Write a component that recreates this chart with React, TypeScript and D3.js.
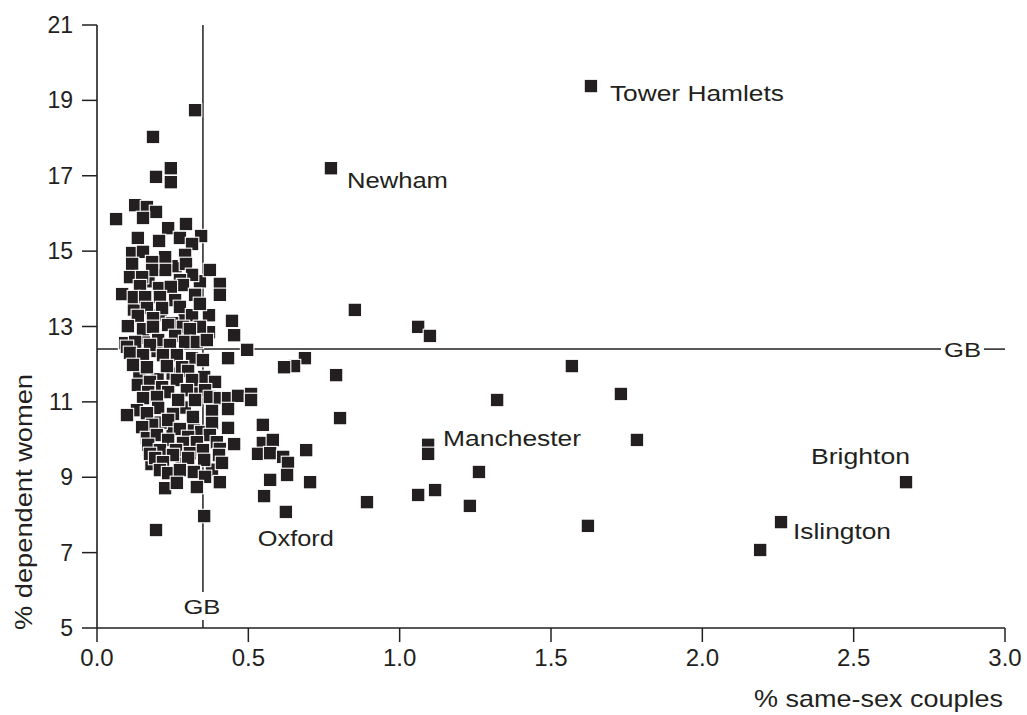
import React from "react";
import * as d3 from "d3";

// ---------- DATA ----------
const xTickValues = [0, 0.5, 1.0, 1.5, 2.0, 2.5, 3.0];
const yTickValues = [5, 7, 9, 11, 13, 15, 17, 19, 21];
const xAxisTitle = "% same-sex couples";
const yAxisTitle = "% dependent women";
const gbSameSex = 0.35;
const gbDependent = 12.4;

// Districts mostly hidden under the dense cluster (x = % same-sex couples, y = % dependent women)
const coveredDistricts: [number, number][] = [
  [0.122, 13.45], [0.37, 13.3], [0.37, 12.85], [0.28, 12.75], [0.155, 12.7],
  [0.2, 12.35], [0.25, 11.75], [0.14, 11.7], [0.2, 11.6], [0.33, 11.4],
  [0.29, 10.85], [0.25, 10.3], [0.21, 10.45], [0.32, 10.4], [0.28, 9.55],
  [0.38, 9.2], [0.18, 9.35], [0.29, 13.2], [0.21, 13.3], [0.17, 14.2],
  [0.26, 14.6], [0.34, 14.2],
];

const clusterDistricts: [number, number][] = [
  [0.324, 18.74], [0.185, 18.03], [0.244, 17.2], [0.195, 16.97], [0.244, 16.83],
  [0.126, 16.22], [0.165, 16.17], [0.195, 16.04], [0.152, 15.88], [0.063, 15.85],
  [0.235, 15.61], [0.294, 15.72], [0.135, 15.35], [0.205, 15.27], [0.274, 15.35],
  [0.344, 15.4], [0.314, 15.19], [0.116, 14.95], [0.152, 14.98], [0.225, 14.84],
  [0.291, 14.9], [0.116, 14.66], [0.225, 14.5], [0.294, 14.66], [0.373, 14.5],
  [0.182, 14.71], [0.182, 14.5], [0.109, 14.31], [0.149, 14.31], [0.314, 14.37],
  [0.274, 14.23], [0.406, 14.13], [0.406, 13.84], [0.083, 13.86], [0.205, 14.02],
  [0.284, 14.1], [0.244, 14.05], [0.142, 14.07], [0.122, 13.78], [0.159, 13.78],
  [0.324, 13.84], [0.258, 13.7], [0.208, 13.78], [0.165, 13.49], [0.215, 13.49],
  [0.274, 13.52], [0.314, 13.3], [0.34, 13.6], [0.446, 13.15], [0.453, 12.77],
  [0.135, 13.28], [0.248, 13.09], [0.185, 13.22], [0.102, 13.01], [0.152, 12.93],
  [0.185, 12.99], [0.284, 12.99], [0.34, 12.99], [0.235, 13.04], [0.307, 12.93],
  [0.258, 12.75], [0.202, 12.64], [0.175, 12.51], [0.241, 12.51], [0.291, 12.59],
  [0.33, 12.59], [0.093, 12.56], [0.126, 12.59], [0.363, 12.64], [0.099, 12.46],
  [0.109, 12.3], [0.152, 12.24], [0.218, 12.24], [0.264, 12.24], [0.314, 12.16],
  [0.433, 12.16], [0.35, 12.11], [0.496, 12.38], [0.119, 11.98], [0.165, 11.92],
  [0.231, 11.95], [0.281, 11.92], [0.301, 11.82], [0.354, 11.66], [0.39, 11.53],
  [0.135, 11.45], [0.175, 11.53], [0.264, 11.58], [0.314, 11.58], [0.215, 11.39],
  [0.297, 11.31], [0.235, 11.26], [0.169, 11.26], [0.357, 11.31],
  [0.198, 11.13], [0.152, 11.1], [0.268, 11.05], [0.324, 11.05], [0.373, 11.13],
  [0.406, 11.1], [0.433, 11.1], [0.466, 11.16], [0.509, 11.21], [0.509, 11.05],
  [0.132, 10.78], [0.202, 10.84], [0.251, 10.68], [0.317, 10.6], [0.38, 10.76],
  [0.433, 10.81], [0.099, 10.65], [0.165, 10.7], [0.182, 10.39], [0.149, 10.33],
  [0.235, 10.52], [0.274, 10.28], [0.344, 10.2], [0.38, 10.44], [0.433, 10.31],
  [0.373, 10.12], [0.165, 10.04], [0.198, 10.12], [0.235, 9.99], [0.301, 10.07],
  [0.284, 9.91], [0.33, 9.93], [0.396, 9.93], [0.453, 9.88], [0.169, 9.86],
  [0.208, 9.72], [0.261, 9.72], [0.307, 9.64], [0.35, 9.72], [0.406, 9.75],
  [0.175, 9.62], [0.192, 9.51], [0.251, 9.59], [0.301, 9.51], [0.354, 9.46],
  [0.403, 9.59], [0.413, 9.38], [0.218, 9.4], [0.208, 9.19], [0.235, 9.11],
  [0.274, 9.19], [0.32, 9.14], [0.357, 9.01], [0.406, 8.87], [0.225, 8.71],
  [0.264, 8.85], [0.33, 8.74], [0.354, 7.97], [0.195, 7.6],
  [0.548, 10.39], [0.548, 9.91], [0.581, 9.99], [0.532, 9.62], [0.572, 9.64],
  [0.615, 9.54], [0.631, 9.38], [0.691, 9.72], [0.572, 8.93], [0.628, 9.06],
  [0.704, 8.87], [0.552, 8.5], [0.687, 12.16], [0.651, 11.95], [0.618, 11.92],
  [0.79, 11.71], [0.803, 10.57],
];

const outlyingDistricts: [number, number][] = [
  [0.852, 13.44], [1.061, 12.99], [1.1, 12.75], [1.569, 11.95], [1.731, 11.21],
  [1.322, 11.05], [1.094, 9.86], [1.784, 9.99], [1.262, 9.14], [1.117, 8.66],
  [1.061, 8.53], [0.892, 8.34], [1.232, 8.24], [1.622, 7.71], [2.191, 7.07],
];

const labelledNames = ["Tower Hamlets", "Newham", "Manchester", "Brighton", "Islington", "Oxford"];
const labelledX = [1.632, 0.773, 1.094, 2.673, 2.26, 0.624];
const labelledY = [19.38, 17.2, 9.62, 8.87, 7.81, 8.08];

// ---------- LAYOUT / STYLE ----------
const W = 1027;
const H = 715;
const plotLeft = 97;
const plotRight = 1005;
const plotTop = 25;
const plotBottom = 628;
const ink = "#231f20";
const font = "'Liberation Sans', Arial, Helvetica, sans-serif";
const sq = 13.5;

const labelStyle: Record<string, { dx: number; dy: number; anchor: string; len: number }> = {
  "Tower Hamlets": { dx: 19, dy: 15, anchor: "start", len: 174 },
  Newham: { dx: 16, dy: 20, anchor: "start", len: 101 },
  Manchester: { dx: 15, dy: -8, anchor: "start", len: 138 },
  Brighton: { dx: 4, dy: -18, anchor: "end", len: 99 },
  Islington: { dx: 12, dy: 17, anchor: "start", len: 98 },
  Oxford: { dx: -28, dy: 34, anchor: "start", len: 76 },
};

export default function App() {
  const x = d3.scaleLinear().domain([0, 3]).range([plotLeft, plotRight]);
  const y = d3.scaleLinear().domain([5, 21]).range([plotBottom, plotTop]);
  const fmt = d3.format(".1f");

  const gx = x(gbSameSex);
  const gy = y(gbDependent);

  const square = (px: number, py: number, key: string) => (
    <rect
      key={key}
      x={x(px) - sq / 2}
      y={y(py) - sq / 2}
      width={sq}
      height={sq}
      fill={ink}
      stroke="#ffffff"
      strokeWidth={1.1}
    />
  );

  return (
    <div style={{ position: "absolute", left: 0, top: 0 }}>
      <svg width={W} height={H} style={{ display: "block", background: "#ffffff" }}>
        <rect x={0} y={0} width={W} height={H} fill="#ffffff" />

        {/* GB reference lines */}
        <line x1={gx} x2={gx} y1={plotTop} y2={592} stroke={ink} strokeWidth={1.5} />
        <line x1={gx} x2={gx} y1={620} y2={plotBottom} stroke={ink} strokeWidth={1.5} />
        <text x={gx - 1} y={614} textAnchor="middle" fontFamily={font} fontSize={21} fill={ink}
          textLength={37} lengthAdjust="spacingAndGlyphs">GB</text>

        <line x1={plotLeft} x2={941} y1={gy} y2={gy} stroke={ink} strokeWidth={1.5} />
        <line x1={984} x2={plotRight} y1={gy} y2={gy} stroke={ink} strokeWidth={1.5} />
        <text x={944} y={gy + 8} textAnchor="start" fontFamily={font} fontSize={21} fill={ink}
          textLength={37} lengthAdjust="spacingAndGlyphs">GB</text>

        {/* points */}
        {coveredDistricts.map((d, i) => square(d[0], d[1], "h" + i))}
        {clusterDistricts.map((d, i) => square(d[0], d[1], "c" + i))}
        {outlyingDistricts.map((d, i) => square(d[0], d[1], "o" + i))}
        {labelledNames.map((n, i) => square(labelledX[i], labelledY[i], "l" + i))}

        {/* labels */}
        {labelledNames.map((n, i) => {
          const s = labelStyle[n];
          return (
            <text
              key={"t" + i}
              x={x(labelledX[i]) + s.dx}
              y={y(labelledY[i]) + s.dy}
              textAnchor={s.anchor}
              fontFamily={font}
              fontSize={22}
              fill={ink}
              textLength={s.len}
              lengthAdjust="spacingAndGlyphs"
            >
              {n}
            </text>
          );
        })}

        {/* axes */}
        <line x1={plotLeft} x2={plotLeft} y1={plotTop} y2={plotBottom} stroke={ink} strokeWidth={1.6} />
        <line x1={plotLeft} x2={plotRight} y1={plotBottom} y2={plotBottom} stroke={ink} strokeWidth={1.6} />

        {yTickValues.map((v) => (
          <g key={"yt" + v}>
            <line x1={plotLeft - 15} x2={plotLeft} y1={y(v)} y2={y(v)} stroke={ink} strokeWidth={1.5} />
            <text x={73} y={y(v) + 8} textAnchor="end" fontFamily={font} fontSize={23} fill={ink}>
              {v}
            </text>
          </g>
        ))}

        {xTickValues.map((v) => (
          <g key={"xt" + v}>
            <line x1={x(v)} x2={x(v)} y1={plotBottom} y2={plotBottom + 14} stroke={ink} strokeWidth={1.5} />
            <text x={x(v)} y={666} textAnchor="middle" fontFamily={font} fontSize={24} fill={ink}>
              {fmt(v)}
            </text>
          </g>
        ))}

        <text x={1003} y={707} textAnchor="end" fontFamily={font} fontSize={24} fill={ink}
          textLength={249} lengthAdjust="spacingAndGlyphs">{xAxisTitle}</text>

        <text
          transform={`translate(32, 630) rotate(-90)`}
          textAnchor="start"
          fontFamily={font}
          fontSize={24}
          fill={ink}
          textLength={256}
          lengthAdjust="spacingAndGlyphs"
        >
          {yAxisTitle}
        </text>
      </svg>
    </div>
  );
}
